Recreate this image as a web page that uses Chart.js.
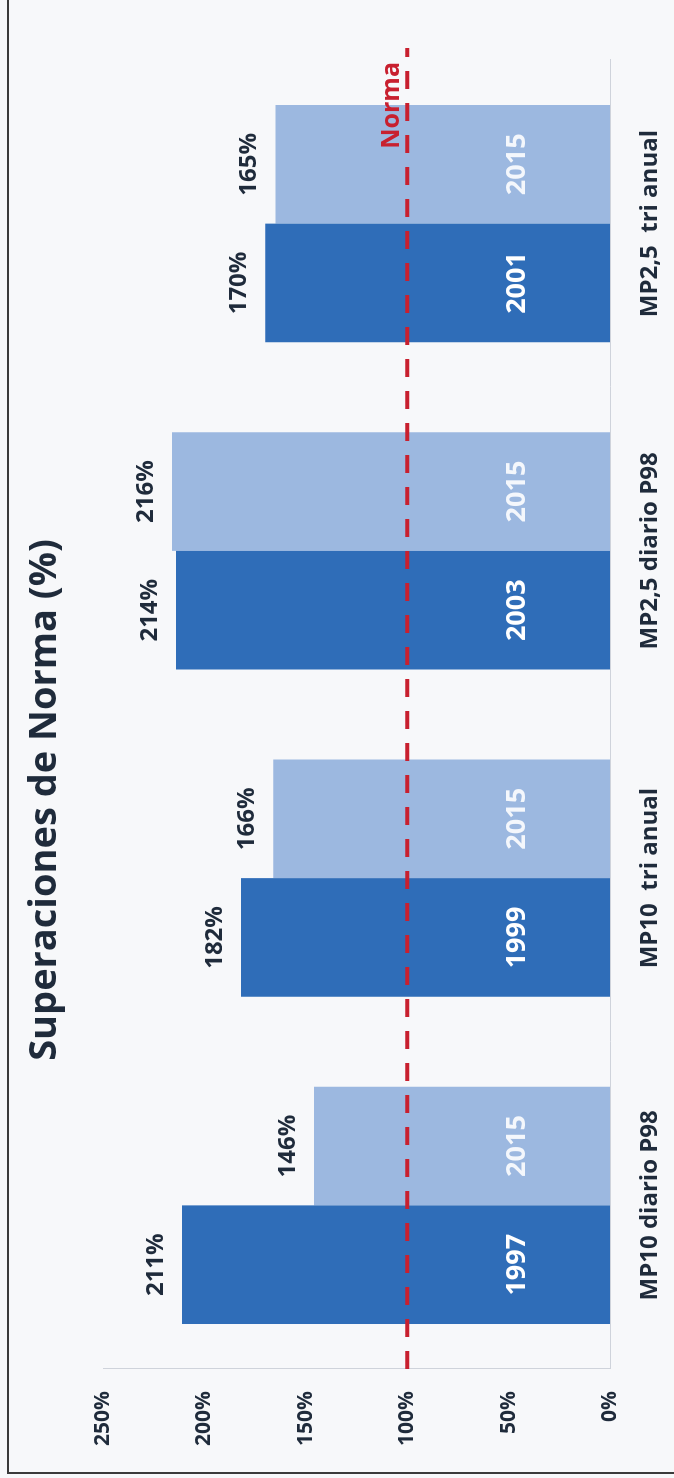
<!DOCTYPE html>
<html>
<head>
<meta charset="utf-8">
<script src="https://cdn.jsdelivr.net/npm/chart.js@4.4.0/dist/chart.umd.min.js"></script>
<style>
  html, body { margin: 0; padding: 0; background: #f7f8fa; }
  #page { position: relative; width: 674px; height: 1478px; overflow: hidden; }
  #rot { position: absolute; left: 0; top: 0; width: 1478px; height: 674px;
         transform-origin: 0 0; transform: translateY(1478px) rotate(-90deg); }
  #frame { position: absolute; left: 7px; top: 0; width: 667px; height: 1472px;
           border-left: 2px solid #3a3a3a; border-bottom: 2px solid #3a3a3a; pointer-events: none; }
</style>
</head>
<body>
<div id="page">
  <div id="rot"><canvas id="chart" width="1478" height="674"></canvas></div>
  <div id="frame"></div>
</div>
<script>
// ---- data ----
const categories = ['MP10 diario P98', 'MP10  tri anual', 'MP2,5 diario P98', 'MP2,5  tri anual'];
const baseYears = ['1997', '1999', '2003', '2001'];
const baseValues = [211, 182, 214, 170];
const recentYears = ['2015', '2015', '2015', '2015'];
const recentValues = [146, 166, 216, 165];
const yTicks = [0, 50, 100, 150, 200, 250];
const normaValue = 100;
const normaLabel = 'Norma';
const titleText = 'Superaciones de Norma (%)';

const textColor = '#1f2b3b';
const font = '"Open Sans", "Noto Sans", sans-serif';

// ---- extra drawing: background, title, labels, norma line ----
const overlay = {
  id: 'overlay',
  beforeDraw(chart) {
    const ctx = chart.ctx;
    ctx.save();
    ctx.fillStyle = '#f7f8fa';
    ctx.fillRect(0, 0, chart.width, chart.height);
    ctx.restore();
  },
  afterDatasetsDraw(chart) {
    const { ctx, chartArea, scales: { y } } = chart;
    ctx.save();

    // title
    ctx.fillStyle = textColor;
    ctx.font = 'bold 38px ' + font;
    ctx.textAlign = 'center';
    ctx.textBaseline = 'middle';
    ctx.fillText(titleText, 678, 45);

    // bar labels
    const years = [baseYears, recentYears];
    const base = y.getPixelForValue(0);
    chart.data.datasets.forEach((ds, di) => {
      chart.getDatasetMeta(di).data.forEach((bar, i) => {
        ctx.fillStyle = textColor;
        ctx.font = 'bold 24px ' + font;
        ctx.fillText(ds.data[i] + '%', bar.x, bar.y - 26);
        ctx.fillStyle = di === 0 ? '#ffffff' : '#f4f7fc';
        ctx.font = 'bold 27px ' + font;
        ctx.fillText(years[di][i], bar.x, base - 93);
      });
    });

    // norma line
    const ny = y.getPixelForValue(normaValue);
    ctx.strokeStyle = '#c8202f';
    ctx.lineWidth = 4;
    ctx.setLineDash([18, 14]);
    ctx.beginPath();
    ctx.moveTo(chartArea.left, ny);
    ctx.lineTo(chartArea.right + 12, ny);
    ctx.stroke();
    ctx.setLineDash([]);

    ctx.fillStyle = '#c8202f';
    ctx.font = 'bold 25px ' + font;
    ctx.textAlign = 'right';
    ctx.textBaseline = 'bottom';
    ctx.fillText(normaLabel, chartArea.right - 2, ny - 3);

    ctx.restore();
  }
};

new Chart(document.getElementById('chart'), {
  type: 'bar',
  data: {
    labels: categories,
    datasets: [
      { label: 'Año base', data: baseValues, backgroundColor: '#2f6db8', borderWidth: 0 },
      { label: '2015', data: recentValues, backgroundColor: '#9cb8e0', borderWidth: 0 }
    ]
  },
  options: {
    responsive: false,
    animation: false,
    devicePixelRatio: 1,
    categoryPercentage: 0.725,
    barPercentage: 1,
    layout: { padding: { left: 0, right: 60, top: 103, bottom: 0 } },
    plugins: { legend: { display: false }, title: { display: false }, tooltip: { enabled: false } },
    scales: {
      x: {
        grid: { display: false, drawTicks: false },
        border: { display: true, color: '#cfd3db', width: 1 },
        ticks: { color: textColor, font: { family: font, size: 24, weight: 'bold' }, padding: 26, maxRotation: 0 },
        afterFit: s => { s.height = 64; }
      },
      y: {
        min: yTicks[0],
        max: yTicks[yTicks.length - 1],
        grid: { display: false, drawTicks: false },
        border: { display: true, color: '#cfd3db', width: 1 },
        afterBuildTicks: s => { s.ticks = yTicks.map(v => ({ value: v })); },
        ticks: { color: textColor, font: { family: font, size: 21, weight: 'bold' }, padding: 22,
                 callback: v => v + '%' },
        afterFit: s => { s.width = 109; }
      }
    }
  },
  plugins: [overlay]
});
</script>
</body>
</html>
